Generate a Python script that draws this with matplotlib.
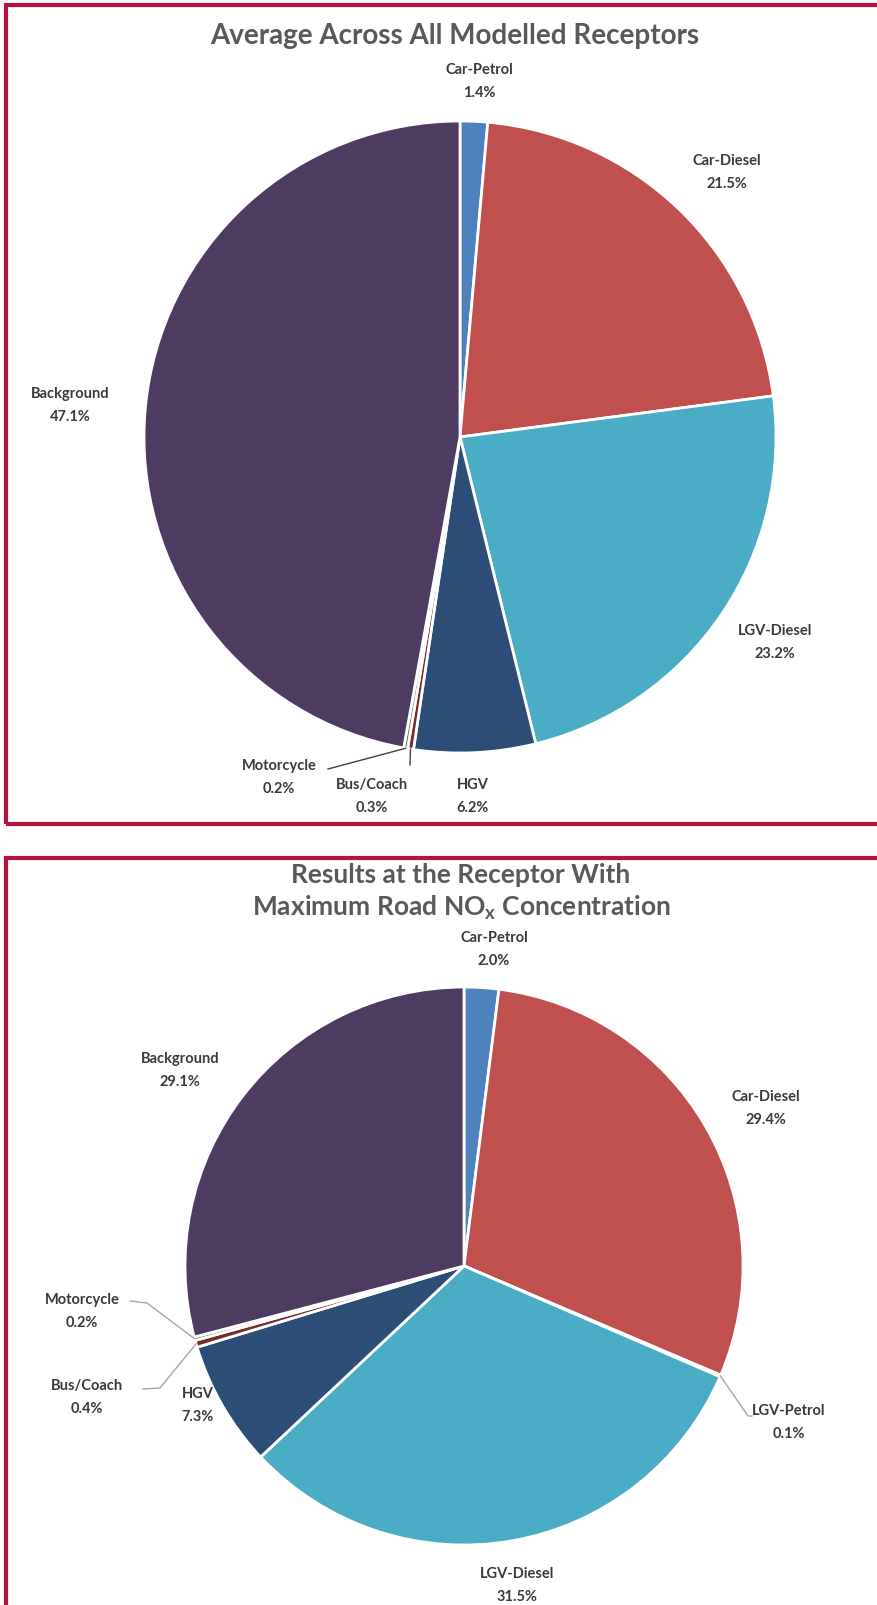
import matplotlib.pyplot as plt
from matplotlib.patches import Rectangle
import numpy as np

W, H = 877, 1606

# top chart: average across all modelled receptors
top_labels = ['Car-Petrol', 'Car-Diesel', 'LGV-Diesel', 'HGV', 'Bus/Coach', 'Motorcycle', 'Background']
top_values = [1.4, 21.5, 23.2, 6.2, 0.3, 0.2, 47.1]
top_colors = ['#4F81BD', '#C0504D', '#4BACC6', '#2C4D75', '#772C2A', '#5F7530', '#4D3B62']

# bottom chart: receptor with maximum road NOx
bot_labels = ['Car-Petrol', 'Car-Diesel', 'LGV-Petrol', 'LGV-Diesel', 'HGV', 'Bus/Coach', 'Motorcycle', 'Background']
bot_values = [2.0, 29.4, 0.1, 31.5, 7.3, 0.4, 0.2, 29.1]
bot_colors = ['#4F81BD', '#C0504D', '#9BBB59', '#4BACC6', '#2C4D75', '#772C2A', '#5F7530', '#4D3B62']

# layout (pixels, y measured from the top)
top_center, top_r = (460, 438), 316
bot_center, bot_r = (464, 1267), 279
top_label_pos = {'Car-Petrol': (479, 81), 'Car-Diesel': (727, 172), 'LGV-Diesel': (775, 642),
                 'HGV': (473, 796), 'Bus/Coach': (372, 796), 'Motorcycle': (279, 777),
                 'Background': (70, 405)}
bot_label_pos = {'Car-Petrol': (494, 949), 'Car-Diesel': (766, 1108), 'LGV-Petrol': (789, 1422),
                 'LGV-Diesel': (517, 1585), 'HGV': (198, 1405), 'Bus/Coach': (87, 1397),
                 'Motorcycle': (82, 1311), 'Background': (180, 1070)}
# leader lines: label end point -> wedge edge
top_leaders = {'Motorcycle': [(328, 770)], 'Bus/Coach': [(410, 766)]}
bot_leaders = {'Motorcycle': [(130, 1302), (147, 1304)], 'Bus/Coach': [(143, 1390), (160, 1389)],
               'LGV-Petrol': [(752, 1417), (748, 1417)]}

plt.rcParams['font.family'] = ['Lato', 'DejaVu Sans']
plt.rcParams['mathtext.default'] = 'regular'

fig = plt.figure(figsize=(W / 100, H / 100), dpi=100)
ax = fig.add_axes([0, 0, 1, 1])


def yy(y):
    return H - y


def draw_pie(values, labels, colors, center, r, label_pos, leaders, line_color):
    c = (center[0], yy(center[1]))
    ax.pie(values, colors=colors, startangle=90, counterclock=False, center=c, radius=r,
           wedgeprops=dict(edgecolor='white', linewidth=2), frame=True)
    total = sum(values)
    cum = 0
    for lab, v in zip(labels, values):
        theta = np.deg2rad(90 - 360 * (cum + v / 2) / total)
        cum += v
        x, y = label_pos[lab]
        ax.text(x, yy(y) + 11, lab, ha='center', va='center', fontsize=10.5,
                fontweight='bold', color='#3A3A3A')
        ax.text(x, yy(y) - 12, f'{v:.1f}%', ha='center', va='center', fontsize=10.5,
                fontweight='bold', color='#3A3A3A')
        if lab in leaders:
            pts = [(px, yy(py)) for px, py in leaders[lab]]
            pts.append((c[0] + r * np.cos(theta), c[1] + r * np.sin(theta)))
            xs, ys = zip(*pts)
            ax.plot(xs, ys, color=line_color, lw=1)


draw_pie(top_values, top_labels, top_colors, top_center, top_r, top_label_pos, top_leaders, '#404040')
draw_pie(bot_values, bot_labels, bot_colors, bot_center, bot_r, bot_label_pos, bot_leaders, '#A6A6A6')
ax.set_xlim(0, W)
ax.set_ylim(0, H)
ax.axis('off')

ax.text(455, yy(36), 'Average Across All Modelled Receptors', ha='center', va='center',
        fontsize=20, fontweight='bold', color='#595959')
ax.text(461, yy(875), 'Results at the Receptor With', ha='center', va='center',
        fontsize=19, fontweight='bold', color='#595959')
ax.text(461, yy(908), 'Maximum Road NO$_x$ Concentration', ha='center', va='center',
        fontsize=19, fontweight='bold', color='#595959')

# panel borders
border = '#B5123E'
ax.add_patch(Rectangle((6, yy(825)), 900, 819, fill=False, edgecolor=border, lw=3, clip_on=False))
ax.add_patch(Rectangle((6, -20), 900, yy(859) + 20, fill=False, edgecolor=border, lw=3, clip_on=False))

fig.savefig('out.png', dpi=100)
